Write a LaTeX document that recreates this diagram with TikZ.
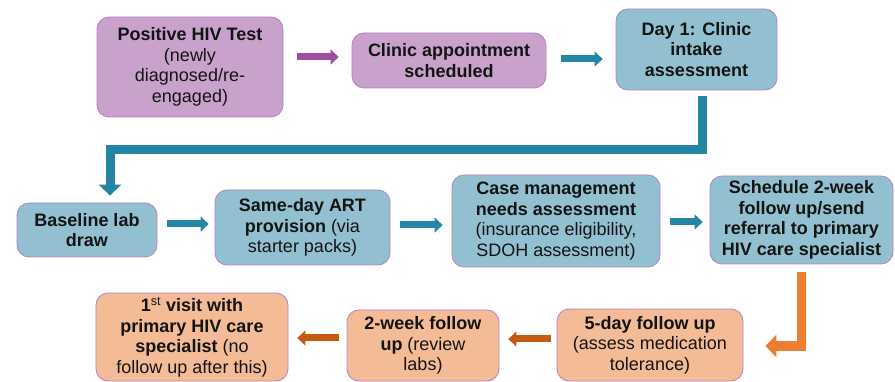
\documentclass[tikz,border=0pt]{standalone}
\usepackage{fontspec}
\setmainfont{Liberation Sans}
\usetikzlibrary{arrows.meta}
\definecolor{pfill}{RGB}{201,162,204}
\definecolor{bfill}{RGB}{146,192,209}
\definecolor{ofill}{RGB}{244,187,151}
\definecolor{bordc}{RGB}{180,130,192}
\definecolor{parrc}{RGB}{155,79,158}
\definecolor{tarrc}{RGB}{37,133,165}
\definecolor{oarrc}{RGB}{237,125,49}
\definecolor{darrc}{RGB}{197,90,17}
\definecolor{txt}{RGB}{20,20,20}
\begin{document}
\begin{tikzpicture}[x=1pt,y=-1pt,
  box/.style={draw=bordc, line width=0.8pt, rounded corners=12pt, align=center,
    inner sep=2pt, text=txt, font=\fontsize{18}{20.5}\selectfont},
  pbox/.style={box, fill=pfill},
  bbox/.style={box, fill=bfill},
  obox/.style={box, fill=ofill},
  smallarr/.style={line width=7pt, -{Triangle[length=8pt,width=15pt]}},
  parr/.style={smallarr, draw=parrc},
  tarr/.style={smallarr, draw=tarrc},
  darr/.style={smallarr, draw=darrc},
  bigarr/.style={line width=9pt, line join=miter, -{Triangle[length=11pt,width=22pt]}}
]
\useasboundingbox (0,0) rectangle (895,382);

\node[pbox, minimum width=186pt, minimum height=100pt] (b1) at (190,67)
  {\textbf{Positive HIV Test}\\(newly\\diagnosed/re-\\engaged)};
\node[pbox, minimum width=194pt, minimum height=55pt] (b2) at (449,60.5)
  {\textbf{Clinic appointment}\\\textbf{scheduled}};
\node[bbox, minimum width=161pt, minimum height=81pt] (b3) at (696.5,49.5)
  {\textbf{Day 1: Clinic}\\\textbf{intake}\\\textbf{assessment}};

\node[bbox, minimum width=140pt, minimum height=54pt] (b4) at (87,230)
  {\textbf{Baseline lab}\\\textbf{draw}};
\node[bbox, minimum width=175pt, minimum height=75pt] (b5) at (302.5,227.5)
  {\textbf{Same-day ART}\\\textbf{provision} (via\\starter packs)};
\node[bbox, minimum width=208pt, minimum height=92pt] (b6) at (556,221)
  {\textbf{Case management}\\\textbf{needs assessment}\\(insurance eligibility,\\SDOH assessment)};
\node[bbox, minimum width=183pt, minimum height=88pt] (b7) at (801.5,220)
  {\textbf{Schedule 2-week}\\\textbf{follow up/send}\\\textbf{referral to primary}\\\textbf{HIV care specialist}};

\node[obox, minimum width=186pt, minimum height=72pt] (b8) at (650,345)
  {\textbf{5-day follow up}\\(assess medication\\tolerance)};
\node[obox, minimum width=152pt, minimum height=71pt] (b9) at (423,345.5)
  {\textbf{2-week follow}\\\textbf{up} (review\\labs)};
\node[obox, minimum width=192pt, minimum height=88pt] (b10) at (192,337)
  {\textbf{1{\mdseries\textsuperscript{st}} visit with}\\\textbf{primary HIV care}\\\textbf{specialist} (no\\follow up after this)};

% top row arrows
\draw[parr, shorten <=14pt, shorten >=13pt] (b1.east |- 0,57) -- (b2.west |- 0,57);
\draw[tarr, shorten <=15pt, shorten >=13pt] (b2.east |- 0,59) -- (b3.west |- 0,59);

% elbow from b3 to b4
\draw[bigarr, draw=tarrc, shorten <=6pt, shorten >=7pt]
  (702,0 |- b3.south) -- (702,150) -- (110,150) -- (110,0 |- b4.north);

% middle row arrows
\draw[tarr, shorten <=10pt, shorten >=6pt] (b4.east |- 0,224) -- (b5.west |- 0,224);
\draw[tarr, shorten <=10pt, shorten >=9pt] (b5.east |- 0,225) -- (b6.west |- 0,225);
\draw[tarr, shorten <=10pt, shorten >=7pt] (b6.east |- 0,222) -- (b7.west |- 0,222);

% elbow from b7 to b8
\draw[bigarr, draw=oarrc, shorten <=8pt, shorten >=22pt]
  (801,0 |- b7.south) -- (801,346) -- (b8.east |- 0,346);

% bottom row arrows
\draw[darr, shorten <=6pt, shorten >=9pt] (b8.west |- 0,339) -- (b9.east |- 0,339);
\draw[darr, shorten <=8pt, shorten >=9pt] (b9.west |- 0,338) -- (b10.east |- 0,338);
\end{tikzpicture}
\end{document}
